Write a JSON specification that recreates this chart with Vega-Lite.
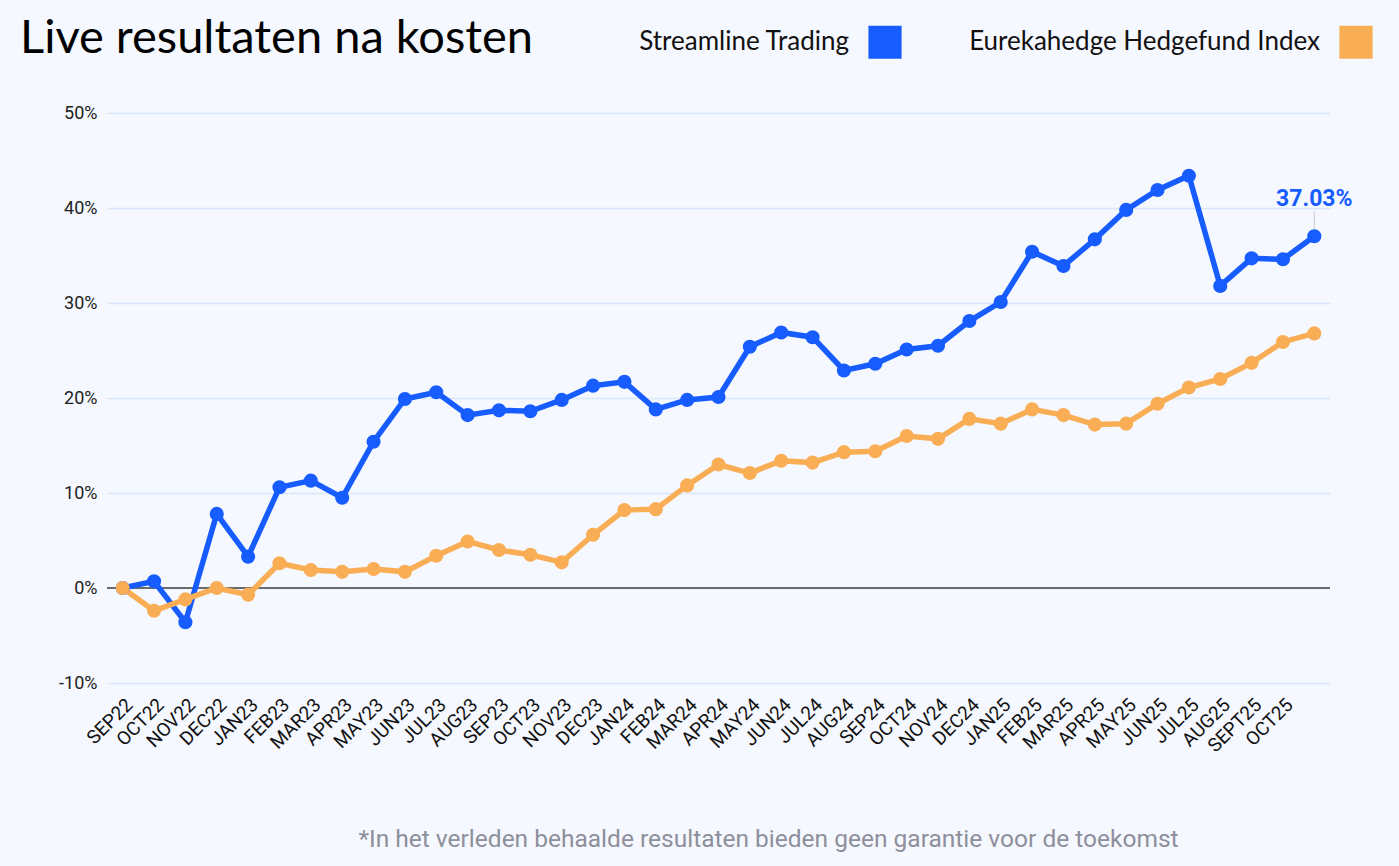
{
  "$schema": "https://vega.github.io/schema/vega-lite/v6.json",
  "width": 1223,
  "height": 570,
  "autosize": {"type": "none"},
  "padding": {"left": 107, "top": 113, "right": 69, "bottom": 183},
  "background": "#f5f8ff",
  "title": {
    "text": "Live resultaten na kosten",
    "anchor": "start",
    "frame": "group",
    "font": "Lato",
    "fontSize": 47,
    "fontWeight": "normal",
    "color": "#000000",
    "baseline": "alphabetic",
    "dx": -87,
    "offset": -75
  },
  "config": {
    "view": {"stroke": null}
  },
  "data": {
    "values": [
      {"m": "SEP22", "s": "Streamline Trading", "v": 0},
      {"m": "OCT22", "s": "Streamline Trading", "v": 0.7},
      {"m": "NOV22", "s": "Streamline Trading", "v": -3.6},
      {"m": "DEC22", "s": "Streamline Trading", "v": 7.8},
      {"m": "JAN23", "s": "Streamline Trading", "v": 3.3},
      {"m": "FEB23", "s": "Streamline Trading", "v": 10.6},
      {"m": "MAR23", "s": "Streamline Trading", "v": 11.3},
      {"m": "APR23", "s": "Streamline Trading", "v": 9.5},
      {"m": "MAY23", "s": "Streamline Trading", "v": 15.4},
      {"m": "JUN23", "s": "Streamline Trading", "v": 19.9},
      {"m": "JUL23", "s": "Streamline Trading", "v": 20.6},
      {"m": "AUG23", "s": "Streamline Trading", "v": 18.2},
      {"m": "SEP23", "s": "Streamline Trading", "v": 18.7},
      {"m": "OCT23", "s": "Streamline Trading", "v": 18.6},
      {"m": "NOV23", "s": "Streamline Trading", "v": 19.8},
      {"m": "DEC23", "s": "Streamline Trading", "v": 21.3},
      {"m": "JAN24", "s": "Streamline Trading", "v": 21.7},
      {"m": "FEB24", "s": "Streamline Trading", "v": 18.8},
      {"m": "MAR24", "s": "Streamline Trading", "v": 19.8},
      {"m": "APR24", "s": "Streamline Trading", "v": 20.1},
      {"m": "MAY24", "s": "Streamline Trading", "v": 25.4},
      {"m": "JUN24", "s": "Streamline Trading", "v": 26.9},
      {"m": "JUL24", "s": "Streamline Trading", "v": 26.4},
      {"m": "AUG24", "s": "Streamline Trading", "v": 22.9},
      {"m": "SEP24", "s": "Streamline Trading", "v": 23.6},
      {"m": "OCT24", "s": "Streamline Trading", "v": 25.1},
      {"m": "NOV24", "s": "Streamline Trading", "v": 25.5},
      {"m": "DEC24", "s": "Streamline Trading", "v": 28.1},
      {"m": "JAN25", "s": "Streamline Trading", "v": 30.1},
      {"m": "FEB25", "s": "Streamline Trading", "v": 35.4},
      {"m": "MAR25", "s": "Streamline Trading", "v": 33.9},
      {"m": "APR25", "s": "Streamline Trading", "v": 36.7},
      {"m": "MAY25", "s": "Streamline Trading", "v": 39.8},
      {"m": "JUN25", "s": "Streamline Trading", "v": 41.9},
      {"m": "JUL25", "s": "Streamline Trading", "v": 43.4},
      {"m": "AUG25", "s": "Streamline Trading", "v": 31.8},
      {"m": "SEPT25", "s": "Streamline Trading", "v": 34.7},
      {"m": "OCT25", "s": "Streamline Trading", "v": 34.6},
      {"m": "NOV25", "s": "Streamline Trading", "v": 37.03},
      {"m": "SEP22", "s": "Eurekahedge Hedgefund Index", "v": 0},
      {"m": "OCT22", "s": "Eurekahedge Hedgefund Index", "v": -2.4},
      {"m": "NOV22", "s": "Eurekahedge Hedgefund Index", "v": -1.2},
      {"m": "DEC22", "s": "Eurekahedge Hedgefund Index", "v": 0},
      {"m": "JAN23", "s": "Eurekahedge Hedgefund Index", "v": -0.7},
      {"m": "FEB23", "s": "Eurekahedge Hedgefund Index", "v": 2.6},
      {"m": "MAR23", "s": "Eurekahedge Hedgefund Index", "v": 1.9},
      {"m": "APR23", "s": "Eurekahedge Hedgefund Index", "v": 1.7},
      {"m": "MAY23", "s": "Eurekahedge Hedgefund Index", "v": 2.0},
      {"m": "JUN23", "s": "Eurekahedge Hedgefund Index", "v": 1.7},
      {"m": "JUL23", "s": "Eurekahedge Hedgefund Index", "v": 3.4},
      {"m": "AUG23", "s": "Eurekahedge Hedgefund Index", "v": 4.9},
      {"m": "SEP23", "s": "Eurekahedge Hedgefund Index", "v": 4.0},
      {"m": "OCT23", "s": "Eurekahedge Hedgefund Index", "v": 3.5},
      {"m": "NOV23", "s": "Eurekahedge Hedgefund Index", "v": 2.7},
      {"m": "DEC23", "s": "Eurekahedge Hedgefund Index", "v": 5.6},
      {"m": "JAN24", "s": "Eurekahedge Hedgefund Index", "v": 8.2},
      {"m": "FEB24", "s": "Eurekahedge Hedgefund Index", "v": 8.3},
      {"m": "MAR24", "s": "Eurekahedge Hedgefund Index", "v": 10.8},
      {"m": "APR24", "s": "Eurekahedge Hedgefund Index", "v": 13.0},
      {"m": "MAY24", "s": "Eurekahedge Hedgefund Index", "v": 12.1},
      {"m": "JUN24", "s": "Eurekahedge Hedgefund Index", "v": 13.4},
      {"m": "JUL24", "s": "Eurekahedge Hedgefund Index", "v": 13.2},
      {"m": "AUG24", "s": "Eurekahedge Hedgefund Index", "v": 14.3},
      {"m": "SEP24", "s": "Eurekahedge Hedgefund Index", "v": 14.4},
      {"m": "OCT24", "s": "Eurekahedge Hedgefund Index", "v": 16.0},
      {"m": "NOV24", "s": "Eurekahedge Hedgefund Index", "v": 15.7},
      {"m": "DEC24", "s": "Eurekahedge Hedgefund Index", "v": 17.8},
      {"m": "JAN25", "s": "Eurekahedge Hedgefund Index", "v": 17.3},
      {"m": "FEB25", "s": "Eurekahedge Hedgefund Index", "v": 18.8},
      {"m": "MAR25", "s": "Eurekahedge Hedgefund Index", "v": 18.2},
      {"m": "APR25", "s": "Eurekahedge Hedgefund Index", "v": 17.2},
      {"m": "MAY25", "s": "Eurekahedge Hedgefund Index", "v": 17.3},
      {"m": "JUN25", "s": "Eurekahedge Hedgefund Index", "v": 19.4},
      {"m": "JUL25", "s": "Eurekahedge Hedgefund Index", "v": 21.1},
      {"m": "AUG25", "s": "Eurekahedge Hedgefund Index", "v": 22.0},
      {"m": "SEPT25", "s": "Eurekahedge Hedgefund Index", "v": 23.7},
      {"m": "OCT25", "s": "Eurekahedge Hedgefund Index", "v": 25.9},
      {"m": "NOV25", "s": "Eurekahedge Hedgefund Index", "v": 26.8}
    ]
  },
  "encoding": {
    "x": {
      "field": "m",
      "type": "ordinal",
      "sort": null,
      "scale": {"type": "point", "padding": 0.5},
      "axis": {
        "title": "*In het verleden behaalde resultaten bieden geen garantie voor de toekomst",
        "titleFont": "Roboto",
        "titleFontSize": 24.5,
        "titleFontWeight": "normal",
        "titleColor": "#8e8f9c",
        "titleBaseline": "alphabetic",
        "titleX": 661,
        "titleY": 163,
        "labelAngle": -45,
        "labelFont": "Roboto",
        "labelFontSize": 19,
        "labelColor": "#111111",
        "labelExpr": "datum.value == 'NOV25' ? '' : datum.label",
        "ticks": false,
        "domain": false,
        "grid": false,
        "labelPadding": 12
      }
    },
    "y": {
      "field": "v",
      "type": "quantitative",
      "scale": {"domain": [-10, 50], "nice": false},
      "axis": {
        "title": null,
        "values": [-10, 0, 10, 20, 30, 40, 50],
        "labelExpr": "datum.value + '%'",
        "labelFont": "Roboto",
        "labelFontSize": 18,
        "labelColor": "#222222",
        "labelPadding": 10,
        "ticks": false,
        "domain": false,
        "gridColor": "#dce6fb",
        "gridWidth": 1.5
      }
    },
    "color": {
      "field": "s",
      "type": "nominal",
      "scale": {
        "domain": ["Streamline Trading", "Eurekahedge Hedgefund Index"],
        "range": ["#175cff", "#f9ae55"]
      },
      "legend": {
        "title": null,
        "orient": "none",
        "legendX": 761,
        "legendY": -88,
        "direction": "horizontal",
        "symbolType": "square",
        "symbolSize": 1100,
        "symbolStrokeWidth": 0,
        "labelFont": "Lato",
        "labelFontSize": 26,
        "labelColor": "#111111",
        "labelAlign": "right",
        "labelOffset": -53,
        "labelLimit": 600,
        "columnPadding": 67,
        "padding": 0,
        "encode": {
          "symbols": {
            "update": {
              "fill": {"scale": "color", "field": "value"},
              "stroke": {"value": "transparent"},
              "strokeWidth": {"value": 0},
              "opacity": {"value": 1}
            }
          }
        }
      }
    }
  },
  "layer": [
    {
      "mark": {"type": "rule", "color": "#6b6b6b", "strokeWidth": 2},
      "encoding": {"x": null, "color": null, "y": {"datum": 0}}
    },
    {
      "mark": {"type": "line", "strokeWidth": 5.5}
    },
    {
      "transform": [{"filter": "datum.m == 'NOV25' && datum.s == 'Streamline Trading'"}],
      "mark": {"type": "rule", "color": "#c8cad4", "strokeWidth": 1},
      "encoding": {"color": null, "y2": {"datum": 39.7}}
    },
    {
      "mark": {"type": "point", "filled": true, "size": 200, "opacity": 1}
    },
    {
      "transform": [{"filter": "datum.m == 'NOV25' && datum.s == 'Streamline Trading'"}],
      "mark": {"type": "text", "font": "Roboto", "fontSize": 23, "fontWeight": "bold", "color": "#175cff", "dy": -30, "baseline": "alphabetic"},
      "encoding": {"color": null, "text": {"value": "37.03%"}}
    }
  ]
}
